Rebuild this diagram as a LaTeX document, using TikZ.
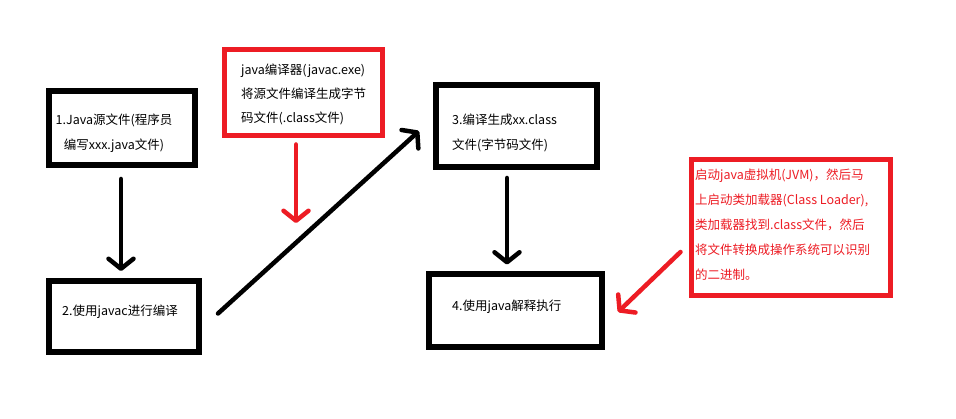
\documentclass[tikz,border=0pt]{standalone}
\usepackage{fontspec}
\setmainfont{Noto Sans CJK SC}
\usetikzlibrary{arrows.meta}
\definecolor{paintred}{RGB}{237,28,36}
\tikzset{
  blackbox/.style={draw=black, line width=6pt, fill=white, inner sep=0pt},
  redbox/.style={draw=paintred, line width=5pt, fill=white, inner sep=0pt},
  txt/.style={inner sep=0pt, font=\fontsize{12.5}{25}\selectfont},
  arr/.style={line width=4.5pt, line cap=round, -{Straight Barb[length=10pt,width=25pt,round]}},
  redarr/.style={arr, draw=paintred},
}
\begin{document}
\begin{tikzpicture}[x=1pt,y=-1pt]
\useasboundingbox[fill=white] (0,0) rectangle (956,419);
% boxes
\node[blackbox, minimum width=146pt, minimum height=74pt] (b1) at (122,128) {};
\node[blackbox, minimum width=150pt, minimum height=71pt] (b2) at (124,316.5) {};
\node[redbox, minimum width=158pt, minimum height=86pt] (r1) at (303.5,92.5) {};
\node[blackbox, minimum width=161pt, minimum height=82pt] (b3) at (516.5,126) {};
\node[blackbox, minimum width=173pt, minimum height=73pt] (b4) at (515.5,310.5) {};
\node[redbox, minimum width=199pt, minimum height=136pt] (r2) at (791,227.5) {};
% texts
\node[txt, align=center] (t1) at (114,133) {1.Java源文件(程序员\\编写xxx.java文件)};
\node[txt, anchor=west] (t2) at (62,312) {2.使用javac进行编译};
\node[txt, anchor=west, align=left, font=\fontsize{12.5}{24}\selectfont] (tr1) at (241,94) {java编译器(javac.exe)\\将源文件编译生成字节\\码文件(.class文件)};
\node[txt, anchor=west, align=left] (t3) at (452,132.5) {3.编译生成xx.class\\文件(字节码文件)};
\node[txt, anchor=west] (t4) at (452,307) {4.使用java解释执行};
\node[txt, anchor=west, align=left, text=paintred] (tr2) at (695,225) {启动java虚拟机(JVM)，然后马\\上启动类加载器(Class Loader),\\类加载器找到.class文件，然后\\将文件转换成操作系统可以识别\\的二进制。};
% connectors
\draw[arr, shorten <=11pt, shorten >=7pt] ([xshift=-1pt]b1.south) -- ([xshift=-1pt]b1.south |- b2.north);
\coordinate (c2) at (296,223);
\draw[redarr, shorten <=6.5pt] ([xshift=-7.5pt]r1.south) -- (c2);
\draw[arr] ([xshift=16pt,yshift=3pt]b2.east) -- ([xshift=-14pt,yshift=-5pt]b3.west);
\draw[arr, shorten <=8pt, shorten >=6.5pt] ([xshift=-9.5pt]b3.south) -- ([xshift=-9.5pt]b3.south |- b4.north);
\draw[redarr] ([xshift=-8.5pt,yshift=-24.5pt]r2.west) -- ([xshift=13pt,yshift=-1.5pt]b4.east);
\end{tikzpicture}
\end{document}
